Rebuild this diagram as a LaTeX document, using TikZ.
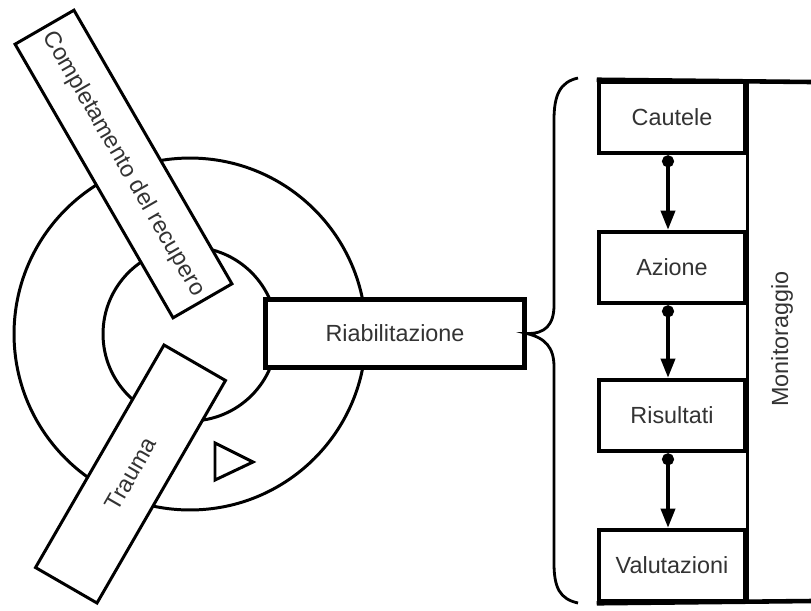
\documentclass[tikz,border=0pt]{standalone}
\usepackage{fontspec}
\setmainfont{Liberation Sans}
\usetikzlibrary{arrows.meta}
\begin{document}
\begin{tikzpicture}[x=0.02cm,y=-0.02cm,
  txt/.style={font=\fontsize{13.3}{16}\selectfont, text=black!80},
  ring/.style={line width=1.7pt},
  tilted/.style={draw, fill=white, line width=1.7pt, txt, inner sep=0pt},
  mainbox/.style={draw, fill=white, line width=2.6pt, txt, minimum width=5.18cm, minimum height=1.36cm, inner sep=0pt},
  stepbox/.style={draw, fill=white, line width=2.6pt, txt, minimum width=2.92cm, minimum height=1.42cm, inner sep=0pt},
  flow/.style={line width=2pt, {Circle[length=0.24cm]}-{Triangle[length=0.38cm,width=0.28cm]}},
  framebar/.style={line width=2.6pt},
  bracecurve/.style={line width=1.6pt}
]
\useasboundingbox (0,0) rectangle (811,610);
\coordinate (c) at (190,334);
\draw[ring] (c) circle[radius=3.52cm];
\draw[ring] (c) circle[radius=1.74cm];
\draw[line width=1.7pt, line join=miter] (215,443) -- (215,480) -- (253,462) -- cycle;
\node[tilted, rotate=-60, minimum width=6.32cm, minimum height=1.36cm] (comp) at (123.5,164) {Completamento del recupero};
\node[tilted, rotate=60, minimum width=5.14cm, minimum height=1.42cm] (trauma) at (130.5,474) {Trauma};
\node[mainbox] (riab) at (395,333.5) {Riabilitazione};
% right column
\node[stepbox] (caut) at (672,117.5) {Cautele};
\node[stepbox] (azi) at (672,267.5) {Azione};
\node[stepbox] (ris) at (672,415.5) {Risultati};
\node[stepbox] (val) at (672,565.5) {Valutazioni};
\coordinate (tr) at (811,82);
\coordinate (br) at (811,601);
\draw[framebar] (caut.north west) -- (tr);
\draw[framebar] (val.south west) -- (br);
\draw[line width=1.7pt] (caut.north east) -- (val.south east);
\node[txt, rotate=90] (mon) at (782,339) {Monitoraggio};
\draw[flow] ([xshift=-0.08cm]caut.south) -- ([xshift=-0.08cm]azi.north);
\draw[flow] ([xshift=-0.08cm]azi.south) -- ([xshift=-0.08cm]ris.north);
\draw[flow] ([xshift=-0.08cm]ris.south) -- ([xshift=-0.08cm]val.north);
% brace
\draw[bracecurve] (578,78) .. controls (560,82) and (554,95) .. (554,120) -- (554,305)
  .. controls (554,325) and (545,334) .. (riab.east)
  .. controls (545,338) and (554,347) .. (554,367) -- (554,563)
  .. controls (554,588) and (560,599) .. (578,603);
\end{tikzpicture}
\end{document}
